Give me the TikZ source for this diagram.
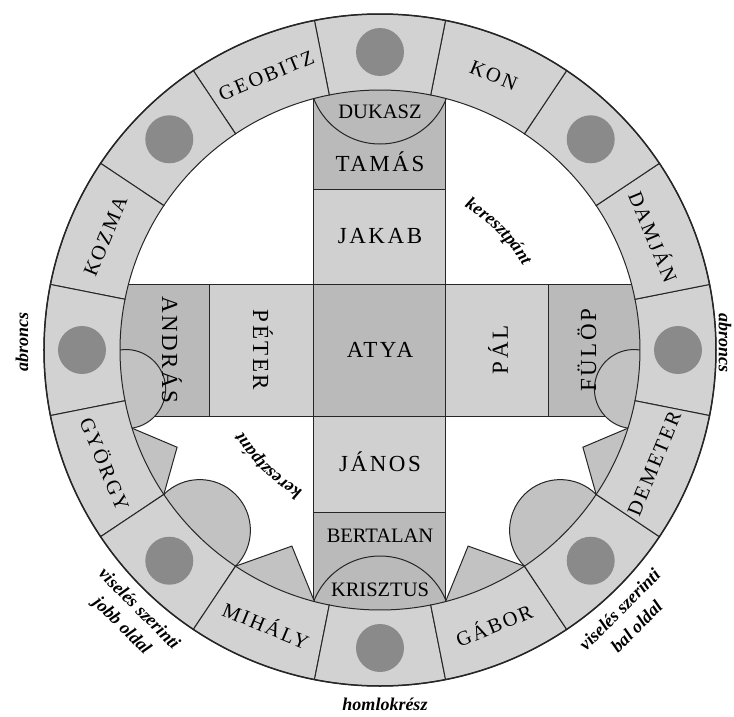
\documentclass[tikz,border=0pt]{standalone}
\usepackage{fontspec}
\setmainfont{Liberation Serif}
\newfontfamily\spacedcaps[LetterSpace=11]{Liberation Serif}
\usetikzlibrary{decorations.text}
\definecolor{ringGray}{RGB}{210,210,210}
\definecolor{darkCell}{RGB}{186,186,186}
\definecolor{lightCell}{RGB}{208,208,208}
\definecolor{pinGray}{RGB}{194,194,194}
\definecolor{plateGray}{RGB}{138,138,138}
\definecolor{edgeGray}{RGB}{38,38,38}

\begin{document}
\begin{tikzpicture}[x=1pt, y=1pt,
    cell/.style={draw=edgeGray, line width=1pt},
    segment/.style={draw=edgeGray, line width=1pt, fill=ringGray},
    pin/.style={draw=edgeGray, line width=1pt, fill=pinGray},
    crossname/.style={font=\spacedcaps\fontsize{23}{26}\selectfont},
    ringname/.style={font=\spacedcaps\fontsize{20.5}{24}\selectfont},
    smallname/.style={font=\fontsize{20.5}{24}\selectfont},
    note/.style={font=\bfseries\itshape\fontsize{18}{24}\selectfont, align=center}
]
\useasboundingbox (-380,-366) rectangle (354,350);
\fill[white] (-380,-366) rectangle (354,350);

\begin{scope}
  \clip (0,0) circle (260);
  \draw[cell, fill=darkCell] (-66,161) rectangle (66,300);
  \draw[cell, fill=lightCell] (-66,66) rectangle (66,161);
  \draw[cell, fill=darkCell] (-66,-66) rectangle (66,66);
  \draw[cell, fill=lightCell] (-66,-162) rectangle (66,-66);
  \draw[cell, fill=darkCell] (-66,-300) rectangle (66,-162);
  \draw[cell, fill=darkCell] (-300,-66) rectangle (-170,66);
  \draw[cell, fill=lightCell] (-170,-66) rectangle (-66,66);
  \draw[cell, fill=lightCell] (66,-66) rectangle (168,66);
  \draw[cell, fill=darkCell] (168,-66) rectangle (300,66);
  \draw[cell] (0,277) circle (71);
  \draw[cell] (0,-277) circle (71);
\end{scope}

\foreach \a/\b in {180/197.5, 213.75/236.25, 303.75/326.25, 342.5/360}{
  \pgfmathsetmacro\midang{(\a+\b)/2}
  \pgfmathsetmacro\hrad{260*sin((\b-\a)/2)}
  \draw[pin] (\a:300) -- (\a:260) arc[start angle=\midang-90, end angle=\midang-270, radius=\hrad] -- (\b:300) -- cycle;
}
\foreach \a/\b/\c/\d in {197.5/213.75/205.6/225, 236.25/255.4/245.8/215, 326.25/342.5/334.4/225, 284.6/303.75/294.2/215}
  \draw[pin] (\a:300) -- (\a:260) -- (\c:\d) -- (\b:260) -- (\b:300) -- cycle;

\foreach \k in {0,...,15}{
  \pgfmathsetmacro\sa{\k*22.5-11.25}
  \pgfmathsetmacro\sb{\k*22.5+11.25}
  \draw[segment] (\sa:260) arc[start angle=\sa, end angle=\sb, radius=260] -- (\sb:336) arc[start angle=\sb, end angle=\sa, radius=336] -- cycle;
}
\foreach \a in {0,45,...,315}
  \fill[plateGray] (\a:298) circle (24);
\draw[edgeGray, line width=1.5pt] (0,0) circle (336);

\node[ringname, rotate=-22.5] (kon) at (67.5:297) {KON};
\node[ringname, rotate=-67.5] (damjan) at (22.5:297) {DAMJÁN};
\node[ringname, rotate=67.5] (demeter) at (-22.5:297) {DEMETER};
\node[ringname, rotate=22.5] (gabor) at (-67.5:297) {GÁBOR};
\node[ringname, rotate=-22.5] (mihaly) at (-112.5:297) {MIHÁLY};
\node[ringname, rotate=-67.5] (gyorgy) at (-157.5:297) {GYÖRGY};
\node[ringname, rotate=67.5] (kozma) at (157.5:297) {KOZMA};
\node[ringname, rotate=22.5] (geobitz) at (112.5:297) {GEOBITZ};

\node[smallname] (dukasz) at (0,238) {DUKASZ};
\node[crossname] (tamas) at (0,188) {TAMÁS};
\node[crossname] (jakab) at (0,114) {JAKAB};
\node[crossname] (atya) at (0,0) {ATYA};
\node[crossname] (janos) at (0,-112) {JÁNOS};
\node[smallname] (bertalan) at (0,-186) {BERTALAN};
\node[smallname] (krisztus) at (0,-240) {KRISZTUS};
\node[crossname, rotate=-90] (peter) at (-117,0) {PÉTER};
\node[crossname, rotate=-90] (andras) at (-208,0) {ANDRÁS};
\node[crossname, rotate=90] (pal) at (118,0) {PÁL};
\node[crossname, rotate=90] (fulop) at (207,0) {FÜLÖP};

\path[decorate, decoration={text along path, text align=center,
  text={|\bfseries\itshape\fontsize{18}{20}\selectfont|keresztpánt}}]
  (75:166) arc[start angle=75, end angle=15, radius=166];
\path[decorate, decoration={text along path, text align=center,
  text={|\bfseries\itshape\fontsize{18}{20}\selectfont|keresztpánt}}]
  (256:160) arc[start angle=256, end angle=196, radius=160];
\node[note, rotate=90] (abroncsL) at (-358,8) {abroncs};
\node[note, rotate=-90] (abroncsR) at (345,7) {abroncs};
\node[note] (homlok) at (5,-354) {homlokrész};
\node[note, rotate=-45] (jobb) at (-250,-268) {viselés szerinti\\jobb oldal};
\node[note, rotate=45] (bal) at (248,-268) {viselés szerinti\\bal oldal};
\end{tikzpicture}
\end{document}
